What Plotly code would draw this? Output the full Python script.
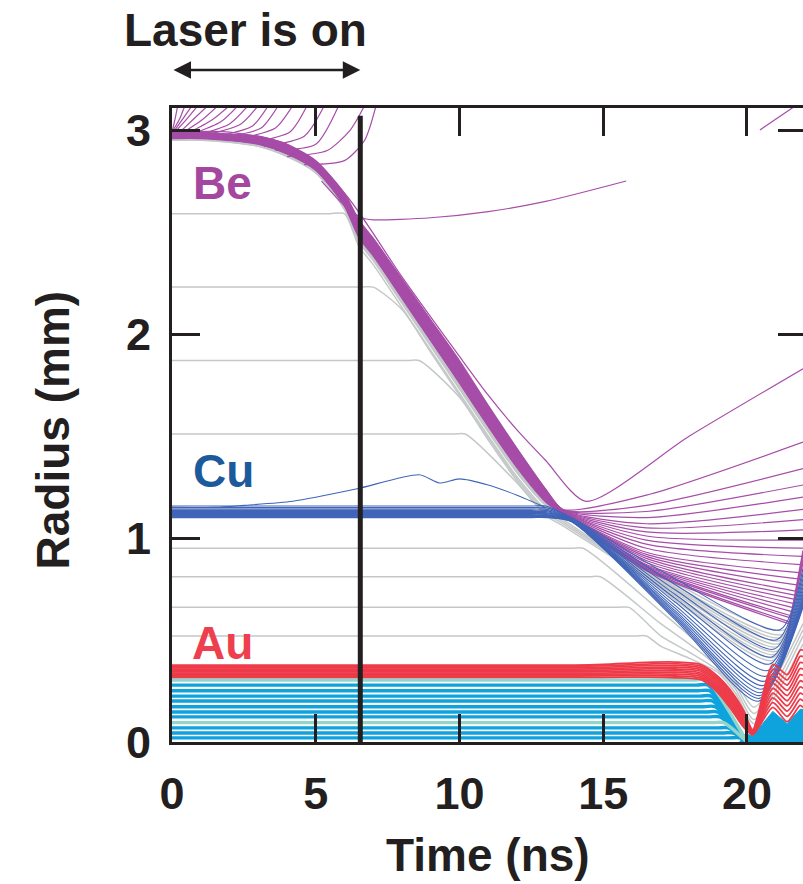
import plotly.graph_objects as go

FONT = "Liberation Sans, Arial, Helvetica, sans-serif"
INK = "#231F20"
PURPLE = "#A64DA8"
GRAY = "#C4C8C9"
BLUE = "#4064B8"
RED = "#EE3B49"
CYAN = "#0FA3DE"
CYAN_PALE = "#93D5CB"
BE_TEXT = "#A3479F"
CU_TEXT = "#1C5A9B"
AU_TEXT = "#EE3F4E"

T_EDGE = 21.95          # right edge of the time window (ns)
R_TOP = 3.108           # top of the radius window (mm)
LASER_OFF_T = 6.55      # end of the laser drive (ns)
SHOULDER = 0.4          # flat lead-in before a bend (ns)
PLOT_W = 631            # plot area width in px
PX_PER_NS = PLOT_W / T_EDGE

TIME_TICKS = [0, 5, 10, 15, 20]
RADIUS_TICKS = [0, 1, 2, 3]

# ---------------- Be ablator: imploding bundle edges ----------------
BE_T      = [0.0, 1.0, 2.0, 3.0, 4.0, 5.0, 6.0, 6.5, 7.0, 8.0, 9.0, 10.0, 11.0, 12.0, 13.0, 13.6]
BE_TOP    = [2.99, 2.99, 2.98, 2.97, 2.93, 2.85, 2.69, 2.56, 2.47, 2.27, 2.07, 1.87, 1.65, 1.44, 1.24, 1.14]
BE_BOTTOM = [2.95, 2.95, 2.94, 2.92, 2.87, 2.79, 2.61, 2.45, 2.36, 2.15, 1.94, 1.73, 1.52, 1.32, 1.16, 1.11]
BE_ZONES = 30
BE_GRAY_ZONES = 6

# Be zones after stagnation of the shell: fan towards the right edge
FAN_MID_T = 16.5
FAN_MID_R = [1.21, 1.16, 1.13, 1.10, 1.07, 1.05, 1.03, 1.01, 0.99, 0.97, 0.95, 0.93,
             0.92, 0.91, 0.90, 0.89, 0.88, 0.87, 0.865, 0.86, 0.855, 0.85, 0.845, 0.84]
FAN_END_T = [21.95, 21.95, 21.95, 21.95, 21.95, 21.95, 21.95, 21.95, 21.95, 21.94, 21.88, 21.82,
             21.77, 21.73, 21.69, 21.66, 21.63, 21.60, 21.57, 21.54, 21.51, 21.49, 21.46, 21.45]
FAN_END_R = [1.47, 1.34, 1.26, 1.20, 1.14, 1.09, 1.04, 0.99, 0.95, 0.91, 0.87, 0.83,
             0.80, 0.77, 0.74, 0.72, 0.70, 0.68, 0.66, 0.64, 0.62, 0.61, 0.59, 0.58]

# rebound shock running out through the Be (steep purple front)
FRONT_START_T = [21.25, 21.30, 21.35, 21.40]
FRONT_START_R = [0.42, 0.45, 0.48, 0.52]
FRONT_END_R = [0.88, 0.90, 0.92, 0.94]

# outermost Be zone that rebounds early
BE_OUTER_T = [0.0, 2.0, 4.0, 6.0, 8.0, 10.0, 11.0, 12.0, 13.0, 14.4, 18.0, 21.95]
BE_OUTER_R = [2.99, 2.99, 2.93, 2.69, 2.28, 1.89, 1.70, 1.53, 1.38, 1.18, 1.50, 1.83]

# ablated Be blow-off during the drive
ABL_T = [
    [0.0, 0.1, 0.2], [0.0, 0.25, 0.45], [0.05, 0.4, 0.7], [0.1, 0.55, 0.9],
    [0.2, 0.8, 1.25], [0.3, 1.05, 1.6], [0.5, 1.4, 2.0], [0.7, 1.7, 2.3],
    [1.0, 2.0, 2.65], [1.3, 2.4, 3.0], [1.6, 2.8, 3.35], [2.0, 3.1, 3.7],
    [2.4, 3.6, 4.2], [2.8, 4.1, 4.7], [3.2, 4.6, 5.3], [3.6, 5.0, 5.8],
    [4.0, 5.4, 6.2, 6.7], [4.6, 6.0, 6.7, 7.1],
    [5.2, 6.0, 6.6, 7.0, 9.0, 11.0, 13.0, 15.8],
]
ABL_R = [
    [2.99, 3.05, 3.12], [2.99, 3.05, 3.12], [2.99, 3.06, 3.12], [2.99, 3.06, 3.12],
    [2.98, 3.06, 3.12], [2.98, 3.05, 3.12], [2.98, 3.05, 3.12], [2.98, 3.04, 3.12],
    [2.98, 3.03, 3.12], [2.98, 3.03, 3.12], [2.97, 3.02, 3.12], [2.97, 3.01, 3.12],
    [2.96, 3.01, 3.12], [2.94, 2.99, 3.12], [2.92, 2.97, 3.12], [2.90, 2.93, 3.12],
    [2.87, 2.90, 3.00, 3.12], [2.83, 2.85, 2.95, 3.12],
    [2.75, 2.63, 2.57, 2.56, 2.57, 2.60, 2.65, 2.75],
]
BE_LATE_T = [20.45, 21.7]
BE_LATE_R = [3.00, 3.12]

# ---------------- gray layer outside the Cu shell ----------------
GO_R0 = [2.59, 2.23, 1.87, 1.51]
GO_SWEEP_T = [5.5, 7.0, 8.6, 10.2]
GO_JOIN_T = [6.0, 8.0, 10.0, 12.0]
GO_DEPTH = [0.02, 0.03, 0.04, 0.05]
GO_BAND_F = [0.3, 0.2, 0.1, 0.0]
GB_BUNDLE_F = [0.45, 0.55, 0.65, 0.75, 0.85, 1.0]
GB_MID_T = 16.5
GB_MID_R = [0.80, 0.86]      # low / high edge of the band
GB_TURN_T = [20.90, 21.30]
GB_TURN_R = [0.40, 0.55]
GB_END_R = [0.80, 0.88]

# ---------------- gray layer between Cu and Au ----------------
GI_R0 = [0.95, 0.81, 0.66, 0.52]
GI_BEND_T = [14.3, 14.9, 15.9, 16.5]
GI_PATH_T = [17.0, 18.0, 19.0, 19.6, 20.25, 21.95]
GI_PATH_R = [[0.64, 0.52, 0.39, 0.30, 0.17, 0.58],
             [0.58, 0.48, 0.37, 0.28, 0.14, 0.55],
             [0.52, 0.44, 0.35, 0.26, 0.11, 0.52],
             [0.47, 0.41, 0.34, 0.24, 0.09, 0.48]]

# ---------------- Cu shell ----------------
CU_T    = [0.0, 12.5, 13.0, 13.9, 17.5]
CU_LOW  = [1.100, 1.100, 1.100, 1.08, 0.60]
CU_HIGH = [1.157, 1.157, 1.157, 1.10, 0.80]
CU_TURN_T = [20.40, 21.15]
CU_TURN_R = [0.20, 0.55]
CU_END_R = [0.66, 0.85]
CU_F = [0.0, 0.04, 0.08, 0.12, 0.17, 0.22, 0.28, 0.35, 0.43, 0.52, 0.62, 0.73, 0.86, 1.0]
CU_PEEL_T = [0.0, 1.5, 2.5, 4.2, 6.4, 8.6, 9.3, 10.0, 11.0, 12.0, 13.0]
CU_PEEL_R = [1.15, 1.15, 1.16, 1.18, 1.24, 1.31, 1.27, 1.29, 1.26, 1.21, 1.15]

# ---------------- Au layer ----------------
AU_T      = [0.0, 14.0, 15.0, 16.5, 17.5, 18.4, 19.0, 19.5, 19.9, 20.2, 20.9, 21.4, 21.85, 21.95]
AU_TOP    = [0.377, 0.377, 0.38, 0.39, 0.392, 0.38, 0.32, 0.24, 0.15, 0.06, 0.38, 0.33, 0.45, 0.45]
AU_BOTTOM = [0.317, 0.317, 0.317, 0.318, 0.315, 0.305, 0.24, 0.15, 0.07, 0.035, 0.17, 0.10, 0.18, 0.17]
AU_ZONES = 10

# ---------------- fuel ----------------
CYAN_R0 = [0.304, 0.279, 0.251, 0.225, 0.201, 0.173, 0.147, 0.123, 0.095, 0.069, 0.044, 0.020]
CYAN_BEND_T = [18.60, 18.64, 18.70, 18.76, 18.80, 18.89, 18.97, 19.06, 19.19, 19.35, 19.53, 19.75]
CYAN_END_T = 20.0
CYAN_PALE_ZONES = [0, 8]
CYAN_FILL_T = [19.75, 19.95, 20.2, 20.5, 20.9, 21.4, 21.85, 21.95, 21.95]
CYAN_FILL_R = [0.0, 0.04, 0.03, 0.08, 0.15, 0.09, 0.16, 0.16, 0.0]


def mix(lo, hi, f):
    return lo + f * (hi - lo)


class LineSet:
    """Collects polylines of one style into a single trace (None separated)."""

    def __init__(self):
        self.x, self.y = [], []

    def add(self, ts, rs):
        self.x += list(ts) + [None]
        self.y += list(rs) + [None]

    def trace(self, color, width, smoothing=0.7):
        return go.Scatter(x=self.x, y=self.y, mode="lines", hoverinfo="skip",
                          line=dict(color=color, width=width, shape="spline",
                                    smoothing=smoothing))


purple, gray, blue, red = LineSet(), LineSet(), LineSet(), LineSet()
cyan, cyan_pale = LineSet(), LineSet()


def gray_band_tail(g):
    ts = [GB_MID_T, mix(GB_TURN_T[0], GB_TURN_T[1], g), T_EDGE]
    rs = [mix(GB_MID_R[0], GB_MID_R[1], g), mix(GB_TURN_R[0], GB_TURN_R[1], g),
          mix(GB_END_R[0], GB_END_R[1], g)]
    return ts, rs


# Be zones (lowest ones are gray)
for k in range(BE_ZONES):
    f = k / (BE_ZONES - 1)
    ts = list(BE_T)
    rs = [mix(lo, hi, f) for lo, hi in zip(BE_BOTTOM, BE_TOP)]
    if k >= BE_GRAY_ZONES:
        i = BE_ZONES - 1 - k
        purple.add(ts + [FAN_MID_T, FAN_END_T[i]], rs + [FAN_MID_R[i], FAN_END_R[i]])
    else:
        tt, rr = gray_band_tail(GB_BUNDLE_F[k])
        gray.add(ts + tt, rs + rr)

for t0, r0, r1 in zip(FRONT_START_T, FRONT_START_R, FRONT_END_R):
    purple.add([t0, T_EDGE], [r0, r1])
purple.add(BE_OUTER_T, BE_OUTER_R)
for ts, rs in zip(ABL_T, ABL_R):
    purple.add(ts, rs)
purple.add(BE_LATE_T, BE_LATE_R)

# gray layer outside the Cu shell
for r0, ts_, tj, d, g in zip(GO_R0, GO_SWEEP_T, GO_JOIN_T, GO_DEPTH, GO_BAND_F):
    ts = [0.0, ts_ - SHOULDER, ts_]
    rs = [r0, r0, r0]
    for t, lo in zip(BE_T, BE_BOTTOM):
        if t >= tj:
            ts.append(t)
            rs.append(lo - d)
    tt, rr = gray_band_tail(g)
    gray.add(ts + tt, rs + rr)

# gray layer between Cu and Au
for r0, tb, path in zip(GI_R0, GI_BEND_T, GI_PATH_R):
    gray.add([0.0, tb - SHOULDER, tb] + GI_PATH_T, [r0, r0, r0] + path)

# Cu zones
for f in CU_F:
    ts = list(CU_T) + [mix(CU_TURN_T[0], CU_TURN_T[1], f), T_EDGE]
    rs = [mix(lo, hi, f) for lo, hi in zip(CU_LOW, CU_HIGH)]
    rs += [mix(CU_TURN_R[0], CU_TURN_R[1], f), mix(CU_END_R[0], CU_END_R[1], f)]
    blue.add(ts, rs)
blue.add(CU_PEEL_T, CU_PEEL_R)

# Au zones
for k in range(AU_ZONES):
    f = k / (AU_ZONES - 1)
    red.add(AU_T, [mix(lo, hi, f) for lo, hi in zip(AU_BOTTOM, AU_TOP)])

# fuel zones
for k, (r0, tb) in enumerate(zip(CYAN_R0, CYAN_BEND_T)):
    target = cyan_pale if k in CYAN_PALE_ZONES else cyan
    target.add([0.0, tb - SHOULDER, tb, CYAN_END_T], [r0, r0, r0, 0.0])

fig = go.Figure()
fig.add_trace(go.Scatter(x=CYAN_FILL_T, y=CYAN_FILL_R, mode="lines", fill="toself",
                         fillcolor=CYAN, line=dict(color=CYAN, width=1), hoverinfo="skip"))
fig.add_trace(cyan.trace(CYAN, 3.4))
fig.add_trace(cyan_pale.trace(CYAN_PALE, 3.4))
fig.add_trace(gray.trace(GRAY, 1.5))
fig.add_trace(purple.trace(PURPLE, 1.2))
fig.add_trace(blue.trace(BLUE, 1.1))
fig.add_trace(red.trace(RED, 1.8))
# carrier for the top / right tick marks
fig.add_trace(go.Scatter(x=[None], y=[None], xaxis="x2", yaxis="y2", mode="lines",
                         hoverinfo="skip"))

tick_font = dict(family=FONT, size=45, color=INK, weight="bold")
axis_common = dict(showgrid=False, zeroline=False, ticks="inside", tickwidth=3,
                   tickcolor=INK, linecolor=INK, linewidth=3)

fig.update_layout(
    width=803, height=884,
    margin=dict(l=172, r=0, t=108, b=142),
    plot_bgcolor="white", paper_bgcolor="white",
    showlegend=False,
    xaxis=dict(range=[0, T_EDGE], tickvals=TIME_TICKS, ticklen=28, showline=True,
               tickfont=tick_font, ticklabelstandoff=10, **axis_common),
    yaxis=dict(range=[0, R_TOP], tickvals=RADIUS_TICKS, ticklen=28, showline=True,
               tickfont=tick_font, ticklabelstandoff=9, **axis_common),
    xaxis2=dict(range=[0, T_EDGE], overlaying="x", side="top", tickvals=TIME_TICKS[1:],
                ticklen=28, showline=True, showticklabels=False, **axis_common),
    yaxis2=dict(range=[0, R_TOP], overlaying="y", side="right", tickvals=RADIUS_TICKS[1:],
                ticklen=25, showline=False, showticklabels=False, **axis_common),
)

# end of the laser drive
fig.add_shape(type="line", x0=LASER_OFF_T, x1=LASER_OFF_T, y0=0, y1=3.07,
              xref="x", yref="y", line=dict(color=INK, width=5), layer="above")

title_font = dict(family=FONT, size=46, color=INK, weight="bold")
fig.add_annotation(text="Time (ns)", x=0.5, y=-0.178, xref="paper", yref="paper",
                   showarrow=False, font=title_font, xanchor="center", yanchor="middle")
fig.add_annotation(text="Radius (mm)", x=-0.188, y=0.492, xref="paper", yref="paper",
                   showarrow=False, font=title_font, textangle=-90,
                   xanchor="center", yanchor="middle")
fig.add_annotation(text="Laser is on", x=0.116, y=1.123, xref="paper", yref="paper",
                   showarrow=False, font=title_font, xanchor="center", yanchor="middle")
# double arrow spanning the drive, from t = 0 to the end of the laser
fig.add_annotation(x=LASER_OFF_T, y=1.06, xref="x", yref="paper",
                   ax=-LASER_OFF_T * PX_PER_NS, ay=0, axref="pixel", ayref="pixel",
                   text="", showarrow=True, arrowhead=2, arrowside="end+start",
                   arrowsize=1.4, arrowwidth=2.5, arrowcolor=INK)

label_font = dict(family=FONT, size=46, weight="bold")
for text, t, r, color in [("Be", 1.74, 2.74, BE_TEXT), ("Cu", 1.78, 1.33, CU_TEXT),
                          ("Au", 1.74, 0.485, AU_TEXT)]:
    fig.add_annotation(text=text, x=t, y=r, xref="x", yref="y", showarrow=False,
                       font=dict(color=color, **label_font), xanchor="center",
                       yanchor="middle")

fig.write_html("out.html")
